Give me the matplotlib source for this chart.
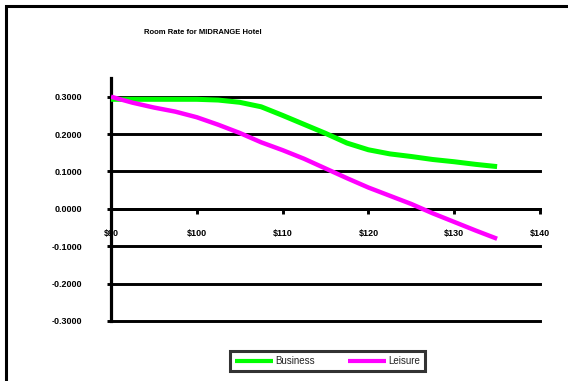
import matplotlib
matplotlib.use("Agg")
import matplotlib.pyplot as plt
from matplotlib.patches import Rectangle

plt.rcParams['font.family'] = ['Liberation Sans', 'DejaVu Sans']

# Room rate (USD) and the response for each guest segment
room_rate = [90, 92.5, 95, 97.5, 100, 102.5, 105, 107.5, 110, 112.5,
             115, 117.5, 120, 122.5, 125, 127.5, 130, 132.5, 135]
business = [0.293, 0.293, 0.293, 0.293, 0.293, 0.291, 0.285, 0.273, 0.250, 0.226,
            0.202, 0.176, 0.158, 0.147, 0.140, 0.132, 0.126, 0.119, 0.113]
leisure = [0.300, 0.284, 0.271, 0.260, 0.245, 0.225, 0.203, 0.178, 0.157, 0.134,
           0.108, 0.082, 0.057, 0.035, 0.013, -0.012, -0.035, -0.058, -0.080]

x_ticks = [90, 100, 110, 120, 130, 140]
x_labels = ['$90', '$100', '$110', '$120', '$130', '$140']
y_ticks = [-0.3, -0.2, -0.1, 0.0, 0.1, 0.2, 0.3]
y_labels = ['-0.3000', '-0.2000', '-0.1000', '0.0000', '0.1000', '0.2000', '0.3000']

W, H = 568, 381
fig = plt.figure(figsize=(W / 100, H / 100), dpi=100)
fig.patch.set_facecolor('white')

# Outer chart frame (left and top edges fall inside the canvas)
fig.patches.append(Rectangle((6 / W, -0.2), 2.0, (1 - 6 / H) + 0.2,
                             transform=fig.transFigure, fill=False,
                             edgecolor='black', linewidth=2.2, clip_on=False))

ax = fig.add_axes([111 / W, 1 - 321 / H, (540 - 111) / W, (321 - 78) / H])
ax.set_facecolor('white')

ax.plot(room_rate, business, color='#00FF00', linewidth=3.6,
        solid_capstyle='butt', label='Business', zorder=3)
ax.plot(room_rate, leisure, color='#FF00FF', linewidth=3.2,
        solid_capstyle='butt', label='Leisure', zorder=3)

ax.set_xlim(90, 140)
ax.set_ylim(-0.3, 0.35)

# Horizontal gridlines at every value tick
for yv in y_ticks:
    ax.axhline(yv, color='black', linewidth=2.1, zorder=1, xmin=0, xmax=1,
               clip_on=False)

ax.spines['top'].set_visible(False)
ax.spines['right'].set_visible(False)
ax.spines['left'].set_linewidth(2.3)
ax.spines['bottom'].set_position(('data', 0))
ax.spines['bottom'].set_linewidth(2.1)

ax.set_yticks(y_ticks)
ax.set_yticklabels(y_labels, fontsize=6.5, fontweight='bold')
ax.set_xticks(x_ticks)
ax.set_xticklabels(x_labels, fontsize=6.5, fontweight='bold')
ax.tick_params(axis='y', direction='out', length=3, width=2.1, pad=18)
ax.tick_params(axis='x', direction='out', length=3.5, width=2.1, pad=11)
for lbl in ax.get_xticklabels():
    lbl.set_zorder(5)

fig.text(203 / W, 1 - 32 / H, 'Room Rate for MIDRANGE Hotel', fontsize=5.5,
         fontweight='bold', ha='center', va='center')

leg = fig.legend(loc='center', bbox_to_anchor=(327.5 / W, 1 - 361 / H), ncol=2,
                 fontsize=7, frameon=True, fancybox=False, handlelength=3.9,
                 handletextpad=0.25, columnspacing=3.4, borderpad=0.5,
                 borderaxespad=0)
leg.get_frame().set_edgecolor('black')
leg.get_frame().set_linewidth(2.2)
for t in leg.get_texts():
    t.set_color('#222222')
for h in leg.get_lines():
    h.set_linewidth(3.0)

fig.savefig('out.png', dpi=100, facecolor='white')
